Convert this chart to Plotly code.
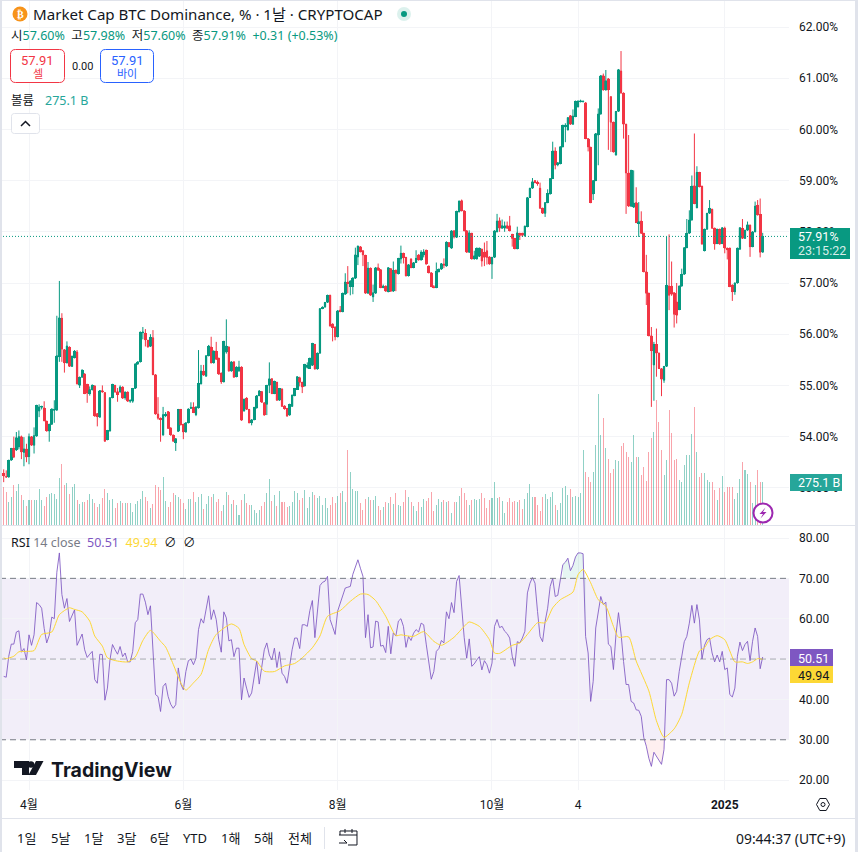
import pandas as pd
import plotly.graph_objects as go

START_DATE = "2024-03-22"
opens = [
53.28,53.22,53.21,53.54,53.77,53.74,53.80,54.00,53.69,53.76,
53.61,54.00,53.83,54.01,54.50,54.57,54.56,54.30,54.11,54.24,
54.51,54.52,55.56,56.31,55.70,55.44,55.75,55.37,55.54,55.65,
55.00,55.16,55.22,55.02,54.84,54.92,54.99,54.45,54.38,54.90,
54.86,53.94,54.11,54.76,55.00,54.88,54.88,54.97,54.76,54.87,
54.69,54.69,54.94,55.42,55.46,56.03,56.02,55.88,55.76,55.93,
55.21,54.44,54.36,54.03,54.41,54.49,54.17,54.03,53.88,54.10,
54.53,54.24,54.09,54.27,54.55,54.58,54.43,54.56,55.03,55.28,
55.18,55.58,55.75,55.44,55.67,55.53,55.24,55.07,55.65,55.75,
55.28,55.46,55.17,55.28,55.36,54.50,54.75,54.53,54.27,54.33,
54.56,54.80,54.88,54.66,54.63,55.00,55.13,54.84,55.06,54.71,
54.93,54.60,54.55,54.42,54.59,54.80,54.92,55.15,55.06,54.99,
55.35,55.33,55.39,55.80,55.32,55.63,56.50,56.53,56.62,56.76,
56.20,56.14,55.95,56.47,56.44,56.78,57.02,56.93,56.93,57.09,
57.51,57.71,57.63,57.54,56.80,57.29,56.73,56.80,57.30,57.26,
56.91,56.94,56.83,57.28,56.84,57.25,57.18,57.47,57.58,57.50,
57.14,57.47,57.30,57.40,57.55,57.45,57.55,57.64,57.33,57.20,
56.93,56.91,57.22,57.27,57.37,57.33,57.79,57.68,58.02,57.89,
58.39,58.61,58.41,58.02,57.60,57.97,57.47,57.47,57.52,57.66,
57.60,57.63,57.51,57.37,57.50,58.00,58.22,58.07,58.07,58.12,
58.12,57.95,57.87,57.67,57.97,57.97,57.92,58.10,58.67,58.85,
59.00,58.97,58.85,58.46,58.36,58.57,58.74,59.04,59.58,59.31,
59.33,59.66,60.05,59.99,60.27,60.10,60.25,60.44,60.54,60.54,
60.52,59.82,59.65,58.74,59.00,59.89,60.30,61.05,60.77,60.99,
60.64,60.14,59.50,60.35,61.14,60.71,60.10,59.15,58.50,58.48,
58.57,58.16,58.21,57.97,57.22,56.80,55.97,55.40,55.80,55.63,
55.33,55.10,55.37,56.94,56.94,56.81,56.63,56.48,56.94,57.17,
57.69,57.97,58.23,58.90,58.47,59.16,58.89,57.63,58.05,58.36,
58.44,58.07,57.77,58.05,57.77,58.07,57.68,57.68,56.96,56.83,
57.00,57.66,58.07,57.87,58.03,58.13,57.71,58.00,58.52,58.34,
57.60]
highs = [
53.36,53.34,53.54,53.77,54.00,54.09,54.12,54.02,53.99,53.86,
54.06,54.01,54.18,54.62,54.63,54.60,54.69,54.31,54.25,54.55,
54.71,56.36,57.04,56.41,55.71,55.86,55.76,55.58,55.69,55.69,
55.17,55.31,55.24,55.03,54.98,55.02,55.00,54.46,54.91,55.00,
54.87,54.13,54.77,55.03,55.01,54.95,55.00,54.98,54.88,54.88,
54.72,54.95,55.43,55.47,56.05,56.14,56.10,55.89,56.00,56.08,
55.22,54.77,54.37,54.58,54.48,54.50,54.18,54.04,53.97,54.54,
54.54,54.25,54.28,54.55,54.67,54.67,54.59,55.69,55.40,55.40,
55.59,55.79,55.95,55.68,55.85,55.54,55.25,55.87,56.29,55.76,
55.47,55.47,55.37,55.48,55.37,54.74,54.77,54.54,54.34,54.58,
54.81,54.91,54.89,54.67,55.01,55.45,55.14,55.09,55.07,54.95,
54.94,54.61,54.56,54.64,54.82,54.95,55.18,55.17,55.07,55.42,
55.45,55.54,55.83,55.81,55.64,56.51,56.54,56.63,56.77,56.77,
56.21,56.15,56.47,56.55,56.81,57.19,57.33,57.05,57.11,57.69,
57.73,57.72,57.64,57.55,57.41,57.30,56.97,57.31,57.38,57.27,
56.97,56.95,57.31,57.29,57.42,57.26,57.49,57.73,57.59,57.51,
57.37,57.48,57.41,57.64,57.56,57.64,57.66,57.65,57.34,57.21,
56.96,57.40,57.28,57.39,57.48,57.81,57.80,58.03,58.03,58.41,
58.61,58.63,58.42,58.03,58.03,57.98,57.63,57.69,57.69,57.67,
57.79,57.82,57.52,57.51,58.03,58.35,58.28,58.24,58.20,58.20,
58.31,57.96,57.88,58.10,57.98,57.98,58.12,58.68,58.86,59.05,
59.01,59.00,58.96,58.47,58.58,58.83,59.05,59.76,59.65,59.36,
59.67,60.09,60.12,60.24,60.28,60.39,60.56,60.57,60.58,60.56,
60.53,59.83,59.66,59.01,59.93,60.41,61.06,61.09,61.16,61.00,
60.65,60.15,60.36,61.18,61.53,60.72,60.11,59.89,59.21,59.20,
58.87,58.58,58.40,57.98,57.55,56.81,56.14,55.85,56.11,55.64,
55.34,55.38,57.90,57.95,57.42,56.82,57.00,56.95,57.28,57.70,
58.25,58.42,59.10,59.92,59.28,59.17,58.90,58.06,58.37,58.62,
58.45,58.08,58.06,58.06,58.09,58.10,57.69,57.69,56.97,57.01,
57.69,58.09,58.25,58.04,58.20,58.14,58.01,58.59,58.62,58.65,
57.98]
lows = [
53.11,53.20,53.20,53.53,53.58,53.72,53.75,53.56,53.42,53.50,
53.46,53.82,53.67,54.00,54.38,54.53,54.30,54.10,53.90,54.23,
54.27,54.50,55.46,55.46,55.25,55.43,55.36,55.36,55.53,55.02,
54.95,55.15,54.83,54.66,54.80,54.90,54.39,54.20,54.37,54.86,
53.90,53.93,54.10,54.75,54.86,54.68,54.85,54.74,54.72,54.68,
54.66,54.66,54.93,55.40,55.45,55.90,55.76,55.74,55.75,55.20,
54.43,54.33,53.90,54.02,54.38,54.15,54.02,53.90,53.72,54.09,
54.22,53.95,54.08,54.26,54.54,54.46,54.40,54.55,55.02,55.19,
55.17,55.57,55.43,55.43,55.50,55.21,55.03,55.06,55.62,55.27,
55.27,55.15,55.16,55.27,54.31,54.49,54.52,54.26,54.22,54.32,
54.55,54.79,54.66,54.41,54.42,54.85,54.83,54.83,54.70,54.70,
54.58,54.53,54.39,54.41,54.58,54.79,54.91,54.98,54.85,54.98,
55.33,55.32,55.38,55.31,55.31,55.62,56.49,56.52,56.61,56.15,
55.86,55.88,55.94,56.43,56.43,56.77,56.80,56.76,56.78,57.08,
57.35,57.60,57.33,56.79,56.79,56.75,56.63,56.79,57.24,56.90,
56.90,56.83,56.82,56.83,56.83,56.84,57.17,57.38,57.38,57.13,
57.13,57.29,57.29,57.39,57.44,57.44,57.50,57.36,57.19,56.92,
56.90,56.90,57.21,57.26,57.29,57.32,57.70,57.67,57.87,57.88,
58.38,58.40,58.01,57.59,57.59,57.46,57.46,57.46,57.51,57.32,
57.33,57.36,57.36,57.08,57.49,57.99,58.00,58.06,58.00,58.06,
58.01,57.71,57.66,57.66,57.84,57.90,57.91,58.09,58.66,58.84,
58.95,58.90,58.45,58.35,58.29,58.56,58.73,59.03,59.22,59.28,
59.32,59.65,59.75,59.98,60.09,60.09,60.24,60.43,60.53,60.53,
59.81,59.57,58.56,58.62,58.99,59.30,60.29,60.76,60.76,59.60,
59.56,59.55,59.49,60.34,60.70,59.82,58.35,58.49,58.49,58.47,
58.17,57.90,57.96,57.21,56.57,55.96,54.58,54.70,55.17,55.32,
54.79,55.05,55.36,56.47,56.75,56.13,56.21,56.47,56.93,57.16,
57.68,57.96,58.22,58.54,58.46,58.87,57.75,57.62,58.04,58.35,
58.06,57.65,57.76,57.75,57.76,57.58,57.46,56.92,56.65,56.77,
56.99,57.65,57.86,57.86,58.02,57.51,57.70,57.99,58.32,57.50,
57.60]
closes = [
53.23,53.21,53.54,53.77,53.60,53.98,54.00,53.70,53.76,53.60,
54.00,53.83,54.02,54.61,54.58,54.59,54.31,54.11,54.24,54.54,
54.53,55.58,56.32,55.71,55.44,55.77,55.37,55.57,55.67,55.03,
55.16,55.30,54.84,54.85,54.92,55.00,54.40,54.39,54.90,54.87,
53.91,54.12,54.76,55.02,54.87,54.82,54.97,54.75,54.87,54.69,
54.71,54.94,55.42,55.46,56.04,56.04,55.89,55.75,55.94,55.21,
54.44,54.36,54.33,54.43,54.44,54.16,54.03,53.91,53.96,54.53,
54.23,54.09,54.27,54.54,54.57,54.47,54.58,55.04,55.28,55.20,
55.58,55.77,55.44,55.67,55.51,55.22,55.07,55.86,55.77,55.28,
55.46,55.16,55.36,55.36,54.32,54.73,54.53,54.27,54.33,54.57,
54.80,54.89,54.67,54.42,55.00,55.13,54.84,55.08,54.71,54.94,
54.59,54.54,54.40,54.63,54.81,54.94,55.17,55.06,54.97,55.41,
55.39,55.53,55.82,55.32,55.63,56.50,56.53,56.62,56.76,56.16,
56.13,55.95,56.46,56.44,56.80,57.02,56.99,57.04,57.10,57.55,
57.72,57.61,57.55,56.80,57.29,56.76,56.81,57.30,57.25,56.91,
56.94,56.84,57.30,56.84,57.25,57.19,57.48,57.58,57.49,57.14,
57.36,57.30,57.40,57.48,57.45,57.60,57.61,57.37,57.20,56.93,
56.91,57.23,57.27,57.38,57.35,57.80,57.71,58.02,57.90,58.40,
58.60,58.41,58.02,57.60,57.98,57.47,57.53,57.68,57.68,57.43,
57.50,57.50,57.37,57.50,58.02,58.21,58.07,58.12,58.12,58.07,
58.02,57.87,57.67,57.98,57.93,57.93,58.11,58.67,58.85,58.98,
58.96,58.94,58.46,58.36,58.57,58.75,59.04,59.58,59.30,59.35,
59.66,60.08,60.08,60.23,60.10,60.26,60.55,60.55,60.56,60.55,
59.82,59.66,58.57,59.00,59.92,60.30,61.05,60.77,60.95,60.77,
60.14,59.56,60.35,61.17,60.71,60.10,59.15,58.50,59.20,58.56,
58.18,58.20,57.97,57.22,56.80,55.97,55.68,55.80,55.63,55.33,
55.12,55.37,56.96,56.76,56.78,56.39,56.37,56.94,57.17,57.69,
57.97,58.23,58.89,58.55,59.16,58.88,57.76,58.05,58.36,58.46,
58.07,57.76,58.05,57.76,58.08,57.68,57.65,56.93,56.83,57.00,
57.68,58.08,57.87,58.03,58.14,57.71,58.00,58.50,58.33,57.60,
57.91]
volumes = [
245,211,149,181,256,219,262,192,160,121,
160,160,160,160,228,160,121,181,198,207,
198,168,302,390,256,266,198,241,262,160,
134,149,149,160,198,164,138,117,134,175,
228,202,160,168,106,138,155,138,143,143,
143,83,134,155,168,217,181,155,106,134,
256,245,224,307,155,113,149,207,192,181,
164,143,104,164,164,213,149,177,198,100,
134,185,181,196,149,164,91,130,211,192,
134,160,126,64,160,198,138,128,128,96,
79,96,121,149,202,294,153,192,121,217,
149,149,117,121,149,217,202,160,170,224,
106,181,213,192,170,185,128,170,106,128,
181,138,185,207,217,149,483,339,228,219,
217,143,96,164,181,160,160,185,121,96,
113,149,138,181,134,207,128,121,150,224,
181,149,121,89,149,113,164,153,170,213,
89,128,164,149,160,149,155,79,149,149,
185,239,207,160,128,160,164,160,164,202,
170,106,160,170,275,170,181,155,79,149,
175,149,155,149,160,100,164,202,262,177,
181,128,92,177,198,164,177,213,128,96,
143,234,249,192,228,177,185,177,202,479,
341,309,277,341,511,841,575,682,490,420,
330,356,415,411,505,522,469,437,405,575,
437,437,320,373,283,469,554,596,799,660,
479,320,415,735,586,415,420,288,277,383,
447,447,581,756,469,309,330,330,288,277,
277,224,160,234,313,213,245,245,245,164,
207,292,405,351,326,277,143,256,351,277,
275.1]
rsi = [
45.7,45.5,50.7,53.7,53.7,56.7,57.0,51.7,52.6,49.8,
56.0,53.4,56.0,64.0,63.5,62.6,57.6,54.0,55.9,60.4,
60.0,71.5,76.3,66.0,62.6,65.0,59.3,60.6,62.2,53.4,
54.8,56.2,52.3,50.4,51.2,51.9,44.9,44.0,51.2,51.1,
39.8,42.8,49.8,53.6,52.3,51.2,53.1,50.6,51.5,49.3,
49.3,51.9,59.0,59.8,66.1,66.1,64.1,61.0,63.2,52.6,
41.2,40.7,37.0,43.2,44.0,40.7,38.8,37.8,38.7,47.8,
43.8,42.4,46.9,49.6,50.0,48.6,50.2,57.3,60.0,58.9,
62.8,65.7,59.8,62.2,59.8,54.8,51.7,61.7,60.2,54.5,
54.8,50.6,52.7,52.7,39.9,45.3,42.8,40.5,41.6,45.3,
49.5,43.8,47.5,52.3,54.0,51.0,49.8,52.7,47.9,51.8,
46.5,45.7,44.0,48.7,52.3,55.2,55.2,52.6,58.5,58.5,
58.1,62.0,64.5,55.3,62.0,68.2,69.0,69.3,70.5,59.8,
58.0,56.1,61.9,64.0,65.6,67.6,67.8,68.0,71.0,73.0,
74.6,72.5,70.5,55.3,61.0,52.8,53.0,59.4,59.2,53.2,
53.4,51.6,58.1,51.3,56.5,55.7,59.4,60.0,58.1,52.9,
55.6,54.6,56.4,57.3,56.7,58.9,58.5,53.7,49.4,45.0,
46.9,51.9,52.6,54.6,54.0,61.7,60.0,64.0,61.5,69.2,
70.7,62.8,55.4,50.2,55.0,48.2,48.8,49.8,50.6,47.3,
49.6,48.6,46.5,49.0,58.1,59.8,57.8,58.1,56.9,56.3,
55.2,50.7,48.2,54.3,54.0,55.2,56.9,66.4,68.8,70.2,
68.8,61.8,55.6,54.3,59.3,62.6,68.0,70.0,65.5,65.8,
69.4,73.4,74.0,75.0,71.9,73.2,75.3,76.3,76.3,76.1,
55.6,51.5,39.5,44.5,57.7,61.5,65.5,63.5,64.1,53.7,
53.1,47.4,56.0,61.5,56.4,49.4,43.7,43.7,39.5,39.1,
37.4,37.3,35.8,30.5,28.4,25.4,23.4,26.9,25.9,24.6,
23.9,27.6,44.9,44.9,44.0,40.8,42.0,46.9,51.0,54.3,
55.6,58.9,63.3,58.9,63.5,59.7,50.0,53.4,54.8,55.2,
51.5,49.3,51.0,49.3,51.9,47.4,47.8,41.2,40.6,42.8,
50.7,54.2,52.1,53.6,54.4,49.6,54.4,57.7,55.6,47.6,
50.51]
ma_bars = [0,1,4,6,9,12,15,19,22,26,28,31,34,36,39,41,45,49,52,55,58,62,64,67,70,72,75,78,81,84,90,93,95,98,100,103,107,111,115,118,122,125,128,133,137,141,144,147,151,155,
157,159,162,166,170,173,178,182,184,188,192,194,196,201,204,207,211,214,217,220,225,227,229,232,235,238,241,243,247,250,255,258,261,265,268,271,275,277,279,282,285,287,289,292,294,296,298,300]
rsi_ma = [50.3,50.1,50.7,51.8,51.9,52.1,56.1,56.7,61.0,62.7,62.3,61.7,59.4,55.7,53.2,50.3,49.5,49.3,50.5,54.6,57.1,54.4,53.0,48.7,44.1,42.3,44.1,46.2,52.4,56.1,58.7,57.6,53.6,50.1,49.5,47.0,46.9,48.3,48.9,50.3,52.8,55.7,60.6,62.0,64.3,66.1,66.0,64.5,60.6,55.8,
56.0,55.8,55.6,56.8,54.4,53.4,55.4,58.1,59.2,58.1,54.8,51.5,51.4,53.4,54.0,56.1,59.0,59.0,62.7,64.7,66.6,70.9,72.2,68.9,64.7,63.1,58.1,55.4,55.5,49.5,42.1,34.7,30.6,32.7,36.3,44.1,52.0,52.8,54.8,55.8,54.8,52.0,49.3,49.3,48.9,49.3,50.1,49.94]
price_ticks = [53,54,55,56,57,58,59,60,61,62]
rsi_ticks = [20,30,40,50,60,70,80]
month_ticks = ["2024-04-01","2024-06-01","2024-08-01","2024-10-01","2024-11-04","2025-01-01"]
month_labels = ["4월","6월","8월","10월","4","<b>2025</b>"]
last_price = 57.91

W, H = 858, 852
UP, DOWN = "#089981", "#F23645"
UPV, DOWNV = "rgba(8,153,129,0.45)", "rgba(242,54,69,0.45)"
PURPLE, YELLOW = "#7E57C2", "#FDD835"
GRID = "#F3F4F7"
FONT = "Roboto, 'Noto Sans CJK KR', sans-serif"
HFONT = "'Noto Sans', 'Noto Sans CJK KR', sans-serif"
TEXT = "#131722"

dates = pd.date_range(START_DATE, periods=len(closes), freq="D")
ma_dates = [dates[i] for i in ma_bars]
t0 = pd.Timestamp("2024-04-01")
PX_PER_DAY = 2.53
x_left = t0 + pd.Timedelta(days=(0 - 29) / PX_PER_DAY)
x_right = t0 + pd.Timedelta(days=(789 - 29) / PX_PER_DAY)
DAY_MS = 86400000

fig = go.Figure()
fig.add_trace(go.Bar(x=dates, y=volumes, xaxis="x", yaxis="y2", width=0.4 * DAY_MS,
                     marker=dict(color=[UPV if c >= o else DOWNV for o, c in zip(opens, closes)], line_width=0),
                     hoverinfo="skip"))
fig.add_trace(go.Candlestick(x=dates, open=opens, high=highs, low=lows, close=closes, xaxis="x", yaxis="y",
                             whiskerwidth=0,
                             increasing=dict(line=dict(color=UP, width=1), fillcolor=UP),
                             decreasing=dict(line=dict(color=DOWN, width=1), fillcolor=DOWN)))
# candle bodies at full width
fig.add_trace(go.Bar(x=dates, y=[abs(c - o) for o, c in zip(opens, closes)], base=[min(o, c) for o, c in zip(opens, closes)],
                     xaxis="x", yaxis="y", width=1.08 * DAY_MS,
                     marker=dict(color=[UP if c >= o else DOWN for o, c in zip(opens, closes)], line_width=0),
                     hoverinfo="skip"))
# overbought / oversold tint
for a, b, lvl, col in [(221, 231, 70, "rgba(8,153,129,0.10)"), (253, 262, 30, "rgba(242,54,69,0.08)")]:
    fig.add_trace(go.Scatter(x=dates[a:b], y=[lvl] * (b - a), xaxis="x", yaxis="y3", mode="lines",
                             line=dict(width=0), hoverinfo="skip"))
    fig.add_trace(go.Scatter(x=dates[a:b], y=rsi[a:b], xaxis="x", yaxis="y3", mode="lines", line=dict(width=0),
                             fill="tonexty", fillcolor=col, hoverinfo="skip"))
fig.add_trace(go.Scatter(x=dates, y=rsi, xaxis="x", yaxis="y3", mode="lines", line=dict(color="rgba(126,87,194,0.85)", width=1)))
fig.add_trace(go.Scatter(x=ma_dates, y=rsi_ma, xaxis="x", yaxis="y3", mode="lines",
                         line=dict(color=YELLOW, width=1, shape="spline", smoothing=0.6)))


def px(x):
    return x / W


def py(y):
    return 1 - y / H


shapes = []
annos = []


def rect(x0, y0, x1, y1, fill=None, line=None, lw=1, path=None):
    s = dict(xref="paper", yref="paper", layer="above", line=dict(width=lw if line else 0, color=line or "rgba(0,0,0,0)"),
             fillcolor=fill or "rgba(0,0,0,0)", type="rect", x0=px(x0), x1=px(x1), y0=py(y0), y1=py(y1))
    shapes.append(s)


def circle(cx, cy, r, fill=None, line=None, lw=1):
    shapes.append(dict(type="circle", xref="paper", yref="paper", layer="above",
                       x0=px(cx - r), x1=px(cx + r), y0=py(cy - r), y1=py(cy + r),
                       fillcolor=fill or "rgba(0,0,0,0)", line=dict(width=lw if line else 0, color=line or "rgba(0,0,0,0)")))


def poly(points, fill=None, line=None, lw=1, close=True):
    d = "M " + " L ".join(f"{px(a):.5f},{py(b):.5f}" for a, b in points) + (" Z" if close else "")
    shapes.append(dict(type="path", path=d, xref="paper", yref="paper", layer="above",
                       fillcolor=fill or "rgba(0,0,0,0)", line=dict(width=lw if line else 0, color=line or "rgba(0,0,0,0)")))


def text(x, y, s, size=12, color=TEXT, anchor="left", family=FONT):
    annos.append(dict(xref="paper", yref="paper", x=px(x), y=py(y), text=s, showarrow=False, xanchor=anchor,
                      yanchor="middle", align=anchor, font=dict(size=size, color=color, family=family),
                      borderpad=0, borderwidth=0))


# RSI band and levels
shapes.append(dict(type="rect", xref="x domain", yref="y3", x0=0, x1=1, y0=30, y1=70, layer="below",
                   fillcolor="rgba(126,87,194,0.1)", line_width=0))
for lvl, col in [(70, "#787B86"), (50, "rgba(120,123,134,0.6)"), (30, "#787B86")]:
    shapes.append(dict(type="line", xref="x domain", yref="y3", x0=0, x1=1, y0=lvl, y1=lvl, layer="above",
                       line=dict(color=col, width=1, dash="6px,4px")))
# last-price line
shapes.append(dict(type="line", xref="x domain", yref="y", x0=0, x1=1, y0=last_price, y1=last_price, layer="above",
                   line=dict(color=UP, width=1, dash="1px,2px")))

# frame
BORDER = "#E0E3EB"
rect(0, 0, 2, H, fill=BORDER)
rect(855, 0, 858, H, fill=BORDER)
rect(0, 0, 858, 1, fill=BORDER)
rect(2, 525, 855, 526, fill=BORDER)
rect(2, 818, 855, 819, fill=BORDER)

# header
circle(20, 14, 7.5, fill="#F7931A")
text(20, 14, "<b>₿</b>", 10, "white", "center", "'DejaVu Sans'")
text(33, 14.5, "Market Cap BTC Dominance, % · 1날 · CRYPTOCAP", 15.1, TEXT, "left", HFONT)
circle(404, 14, 7, fill="rgba(8,153,129,0.14)")
circle(404, 14, 3, fill=UP)
g = lambda s: f'<span style="color:{UP}">{s}</span>'
text(11, 36, f"시{g('57.60%')}  고{g('57.98%')}  저{g('57.60%')}  종{g('57.91%')}  {g('+0.31 (+0.53%)')}", 12.5, TEXT, "left", HFONT)


def rbox(x0, y0, x1, y1, r, line, fill="white", lw=1):
    k = 0.35 * r
    d = (f"M {px(x0 + r)},{py(y0)} L {px(x1 - r)},{py(y0)} C {px(x1 - k)},{py(y0)} {px(x1)},{py(y0 + k)} {px(x1)},{py(y0 + r)} "
         f"L {px(x1)},{py(y1 - r)} C {px(x1)},{py(y1 - k)} {px(x1 - k)},{py(y1)} {px(x1 - r)},{py(y1)} "
         f"L {px(x0 + r)},{py(y1)} C {px(x0 + k)},{py(y1)} {px(x0)},{py(y1 - k)} {px(x0)},{py(y1 - r)} "
         f"L {px(x0)},{py(y0 + r)} C {px(x0)},{py(y0 + k)} {px(x0 + k)},{py(y0)} {px(x0 + r)},{py(y0)} Z")
    shapes.append(dict(type="path", path=d, xref="paper", yref="paper", layer="above", fillcolor=fill,
                       line=dict(color=line, width=lw)))


rbox(10.5, 49.5, 64.5, 82.5, 5, DOWN)
text(37.5, 60, "57.91", 13, DOWN, "center")
text(37.5, 74, "셀", 11, DOWN, "center")
text(82, 66.5, "0.00", 11, TEXT, "center")
rbox(100.5, 49.5, 153.5, 82.5, 5, "#2962FF")
text(127, 60, "57.91", 13, "#2962FF", "center")
text(127, 74, "바이", 11, "#2962FF", "center")
text(11, 100, "볼륨", 12.5, TEXT)
text(45, 100, "275.1 B", 12.5, "#26A69A", "left", HFONT)
rbox(11.5, 113.5, 39.5, 133.5, 3, BORDER)
poly([(21, 126), (25.5, 121.5), (30, 126)], line=TEXT, lw=1.5, close=False)

# price / volume labels
rect(790, 228, 850, 259, fill=UP)
text(798, 236.5, "57.91%", 12.5, "white")
text(798, 251, "23:15:22", 12.5, "rgba(255,255,255,0.85)")
rect(790, 474, 842, 491, fill="#26A69A")
text(798, 482.5, "275.1 B", 12.5, "white")
rect(790, 649, 833, 666, fill=PURPLE)
text(798, 658, "50.51", 12.5, "white")
rect(790, 666, 833, 683, fill=YELLOW)
text(798, 675, "49.94", 12.5, TEXT)

# lightning
circle(763, 513, 9.5, fill="white", line="#9C27B0", lw=2)
poly([(765.5, 507.5), (759.5, 514), (763, 514), (760.5, 518.5), (766.5, 512), (763, 512)], fill="#9C27B0")

# RSI legend
text(11, 542, f'RSI <span style="color:#787B86">14 close</span>  <span style="color:{PURPLE}">50.51</span>  '
              f'<span style="color:{YELLOW}">49.94</span>  ∅  ∅', 12.5, TEXT, "left", HFONT)

# TradingView logo
poly([(14, 761), (29, 761), (29, 775), (22, 775), (22, 768), (14, 768)], fill=TEXT)
circle(31, 764.5, 3.3, fill=TEXT)
poly([(36, 775), (43.5, 761), (36, 761), (28.5, 775)], fill=TEXT)
text(51, 769.5, "<b>TradingView</b>", 19.5, TEXT, "left", "Inter, Roboto, sans-serif")

# gear
poly([(816.5, 804.5), (819.8, 798.5), (826.2, 798.5), (829.5, 804.5), (826.2, 810.5), (819.8, 810.5)], line="#131722", lw=1)
circle(823, 804.5, 2, line="#131722")

# toolbar
for x, s in zip([26, 60, 93, 126, 159, 195, 230, 263, 300], ["1일", "5날", "1달", "3달", "6달", "YTD", "1해", "5해", "전체"]):
    text(x, 838, s, 13, TEXT, "center", HFONT)
rect(324, 827, 325, 849, fill=BORDER)
poly([(340, 835), (340, 831), (357, 831), (357, 845), (348, 845)], line=TEXT, lw=1, close=False)
poly([(339, 835), (357, 835)], line=TEXT, lw=1, close=False)
poly([(345, 829), (345, 833)], line=TEXT, lw=1, close=False)
poly([(352, 829), (352, 833)], line=TEXT, lw=1, close=False)
poly([(339, 843), (347, 843), (344, 840)], line=TEXT, lw=1, close=False)
text(845, 838, "09:44:37 (UTC+9)", 13.9, TEXT, "right", HFONT)

p_top = 62 + 27 / 51.2
p_bot = 62 - (525 - 27) / 51.2
r_top = 80 + 12 / 4.035
r_bot = 80 - (790 - 538) / 4.035
fig.update_layout(
    width=W, height=H, autosize=False, margin=dict(l=0, r=0, t=0, b=0), paper_bgcolor="white", plot_bgcolor="white",
    showlegend=False, barmode="overlay", bargap=0, hovermode=False, dragmode=False, font=dict(family=FONT, size=12, color=TEXT),
    xaxis=dict(domain=[0, 789 / W], range=[x_left, x_right], anchor="y3", type="date", tickmode="array",
               tickvals=month_ticks, ticktext=month_labels, showgrid=True, gridcolor=GRID, gridwidth=1, ticks="",
               rangeslider=dict(visible=False), showline=False, zeroline=False, tickfont=dict(size=12, color=TEXT),
               ticklabelstandoff=6, tickangle=0),
    yaxis=dict(domain=[1 - 525 / H, 1], range=[p_bot, p_top], side="right", anchor="x", tickmode="array",
               tickvals=price_ticks, ticktext=[f"{v:.2f}%" for v in price_ticks], gridcolor=GRID, showline=False,
               zeroline=False, ticklabelstandoff=9, tickfont=dict(size=12, color=TEXT)),
    yaxis2=dict(domain=[1 - 525 / H, 1], range=[0, 525 * 6.4], overlaying="y", side="right", showgrid=False,
                visible=False, anchor="x"),
    yaxis3=dict(domain=[1 - 790 / H, 1 - 526 / H], range=[r_bot, r_top], side="right", anchor="x", tickmode="array",
                tickvals=rsi_ticks, ticktext=[f"{v:.2f}" for v in rsi_ticks], gridcolor=GRID, showline=False,
                zeroline=False, ticklabelstandoff=9, tickfont=dict(size=12, color=TEXT)),
    shapes=shapes, annotations=annos,
)
fig.write_html("out.html", config=dict(displayModeBar=False, staticPlot=True),
               post_script="document.body.style.margin='0';document.documentElement.style.overflow='hidden';")
